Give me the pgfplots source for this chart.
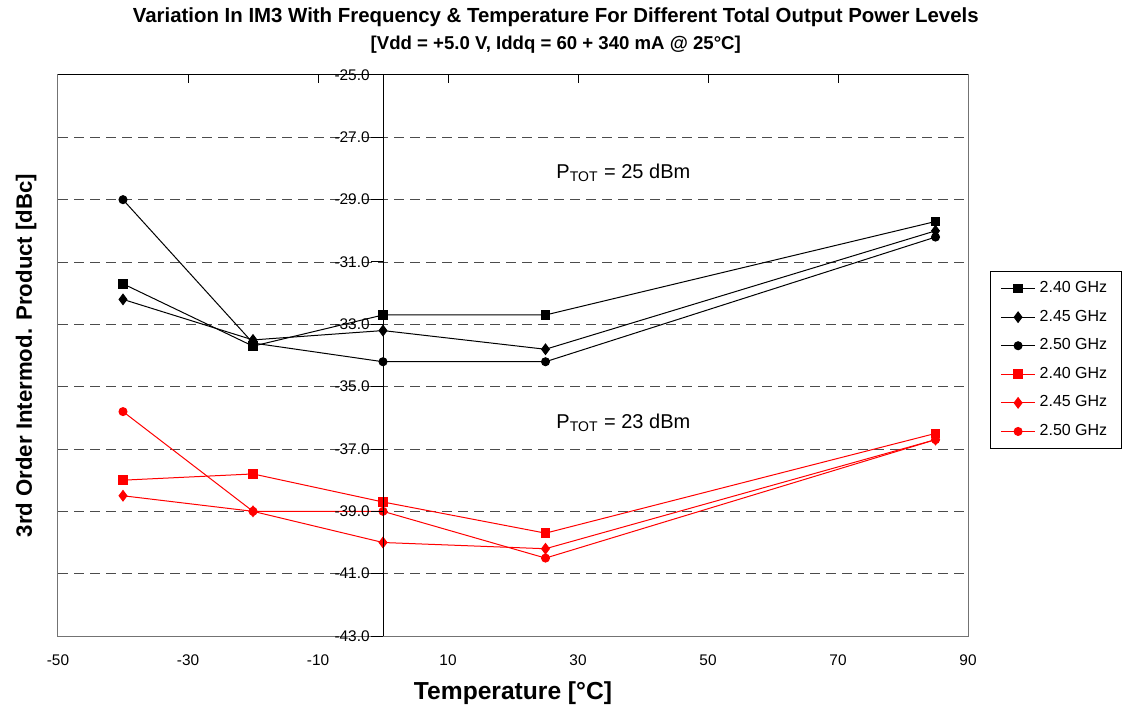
\documentclass[border=0pt]{standalone}
\usepackage{fontspec}
\setmainfont{Liberation Sans}
\usepackage{pgfplots}
\pgfplotsset{compat=1.18}
\definecolor{gridgray}{gray}{0.3}
\definecolor{framegray}{gray}{0.45}
\begin{document}
\begin{tikzpicture}
\begin{axis}[
    name=ax,
    width=455pt, height=280.5pt, scale only axis,
    xmin=-50, xmax=90, ymin=-43, ymax=-25,
    xtick={-50,-30,...,90}, ytick={-43,-41,...,-25},
    yticklabels={}, ytick style={draw=none},
    xtick pos=upper, xticklabel pos=lower,
    tick align=inside, major tick length=4pt,
    xtick style={black, line width=0.5pt},
    xticklabel style={font=\fontsize{7.7}{9}\selectfont, yshift=-6pt},
    /pgf/number format/assume math mode=true,
    ymajorgrids, grid style={gridgray, line width=0.5pt, dash pattern=on 5pt off 3pt},
    axis line style={framegray, line width=0.5pt},
    title={Variation In IM3 With Frequency \& Temperature For Different Total Output Power Levels\\{\fontsize{9.3}{10}\selectfont [Vdd = +5.0 V, Iddq = 60 + 340 mA @ 25\textdegree C]}},
    title style={at={(0.547,1)}, anchor=south, yshift=1.5pt, align=center, font=\bfseries\fontsize{10.2}{13.5}\selectfont},
    xlabel={Temperature [\textdegree C]},
    xlabel style={at={(rel axis cs:0.5,-0.1016)}, anchor=center, font=\bfseries\fontsize{12.3}{14}\selectfont},
    ylabel={3rd Order Intermod. Product [dBc]},
    ylabel style={at={(rel axis cs:-0.035,0.5)}, anchor=center, font=\bfseries\fontsize{11.1}{13}\selectfont},
    legend style={at={(rel axis cs:1,0.6506)}, anchor=north west, xshift=11pt,
        font=\fontsize{8}{9.6}\selectfont, draw=black, line width=0.5pt,
        row sep=3.2pt, inner xsep=5pt, inner ysep=3pt},
    legend cell align=left,
    clip=false,
]
\addplot[black, line width=0.5pt, mark=square*, mark size=2.2pt] coordinates
    {(-40,-31.7) (-20,-33.7) (0,-32.7) (25,-32.7) (85,-29.7)};
\addplot[black, line width=0.5pt, mark=diamond*, mark size=2.6pt] coordinates
    {(-40,-32.2) (-20,-33.5) (0,-33.2) (25,-33.8) (85,-30.0)};
\addplot[black, line width=0.5pt, mark=*, mark size=2pt] coordinates
    {(-40,-29.0) (-20,-33.6) (0,-34.2) (25,-34.2) (85,-30.2)};
\addplot[red, line width=0.5pt, mark=square*, mark size=2.2pt] coordinates
    {(-40,-38.0) (-20,-37.8) (0,-38.7) (25,-39.7) (85,-36.5)};
\addplot[red, line width=0.5pt, mark=diamond*, mark size=2.6pt] coordinates
    {(-40,-38.5) (-20,-39.0) (0,-40.0) (25,-40.2) (85,-36.7)};
\addplot[red, line width=0.5pt, mark=*, mark size=2pt] coordinates
    {(-40,-35.8) (-20,-39.0) (0,-39.0) (25,-40.5) (85,-36.7)};
\legend{2.40 GHz, 2.45 GHz, 2.50 GHz, 2.40 GHz, 2.45 GHz, 2.50 GHz}
\draw[black, line width=0.5pt] (rel axis cs:0,1) -- (rel axis cs:1,1);
\node[anchor=west, font=\fontsize{10}{12}\selectfont] at (axis cs:25.6,-28.15) {P\textsubscript{TOT} = 25 dBm};
\node[anchor=west, font=\fontsize{10}{12}\selectfont] at (axis cs:25.6,-36.17) {P\textsubscript{TOT} = 23 dBm};
\end{axis}
\begin{axis}[
    width=455pt, height=280.5pt, scale only axis,
    xmin=-50, xmax=90, ymin=-43, ymax=-25,
    axis y line=middle, axis x line=none,
    axis line style={-, black, line width=0.5pt},
    ytick={-43,-41,...,-25}, xtick=\empty,
    tick align=outside, major tick length=6pt,
    ytick style={black, line width=0.5pt},
    /pgf/number format/assume math mode=true,
    yticklabel style={/pgf/number format/.cd, fixed, fixed zerofill, precision=1, /tikz/.cd,
        font=\fontsize{7.7}{9}\selectfont, inner xsep=0.5pt},
]
\end{axis}
\pgfresetboundingbox
\path[use as bounding box] ([shift={(-29pt,-37.5pt)}]ax.south west) rectangle ([shift={(81pt,37.5pt)}]ax.north east);
\end{tikzpicture}
\end{document}
